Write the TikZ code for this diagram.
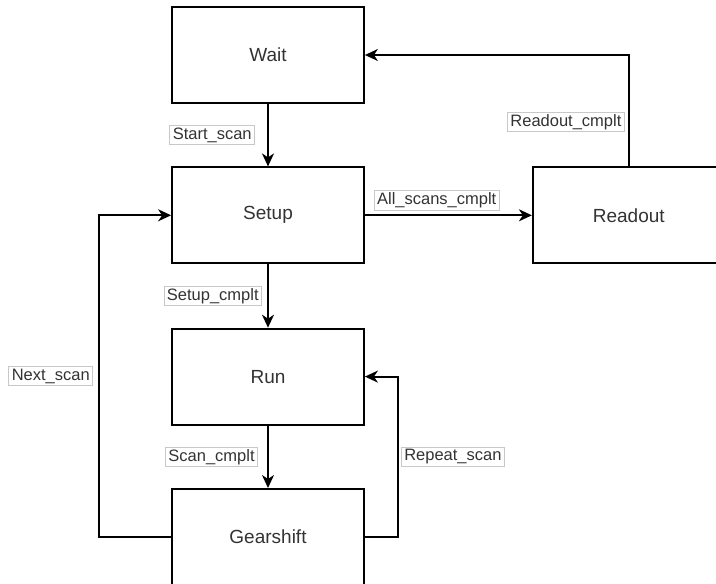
\documentclass[tikz,border=0pt]{standalone}
\usepackage{fontspec}
\setmainfont{Liberation Sans}
\usetikzlibrary{arrows.meta, positioning}
\definecolor{txtgray}{HTML}{333333}
\definecolor{lblborder}{HTML}{C8C8C8}

\begin{document}
\begin{tikzpicture}[
        x=1pt, y=-1pt, line width=1.8pt,
        node distance=62.5pt, >={Stealth[length=13pt,width=12pt,inset=4pt]},
        phase/.style={draw, minimum width=192pt, minimum height=96pt,
          font=\fontsize{19}{22}\selectfont, text=txtgray},
        cond/.style={draw=lblborder, line width=0.75pt, fill=white,
          inner xsep=3pt, inner ysep=2pt,
          font=\fontsize{16.5}{19}\selectfont, text=txtgray}
        ]
        \useasboundingbox (0,0) rectangle (716,584);

        \node[phase]            (wait)    at (268,55)              {Wait};
        \node[phase]            (setup)   [below=of wait]          {Setup};
        \node[phase]            (run)     [below=63.5pt of setup]  {Run};
        \node[phase]            (gear)    [below=of run]           {Gearshift};
        \node[phase]            (readout) [right=167pt of setup]   {Readout};

        \path[->] (wait)  edge node [cond, left=13pt]         {Start\_scan} (setup)
                  (setup) edge node [cond, left=6pt]          {Setup\_cmplt} (run)
                  (run)   edge node [cond, left=10pt]         {Scan\_cmplt} (gear)
                  (setup) edge node [cond, pos=0.43, above=5pt] {All\_scans\_cmplt} (readout);

        \draw[->] (readout.north) |- node [cond, pos=0.20, left=4pt] {Readout\_cmplt} (wait.east);
        \draw[->] (gear.west) -- ++(-72pt,0) |- node [cond, pos=0.25, left=6pt] {Next\_scan} (setup.west);
        \draw[->] (gear.east) -- ++(33pt,0) |- node [cond, pos=0.25, right=3pt] {Repeat\_scan} (run.east);
      \end{tikzpicture}
\end{document}
